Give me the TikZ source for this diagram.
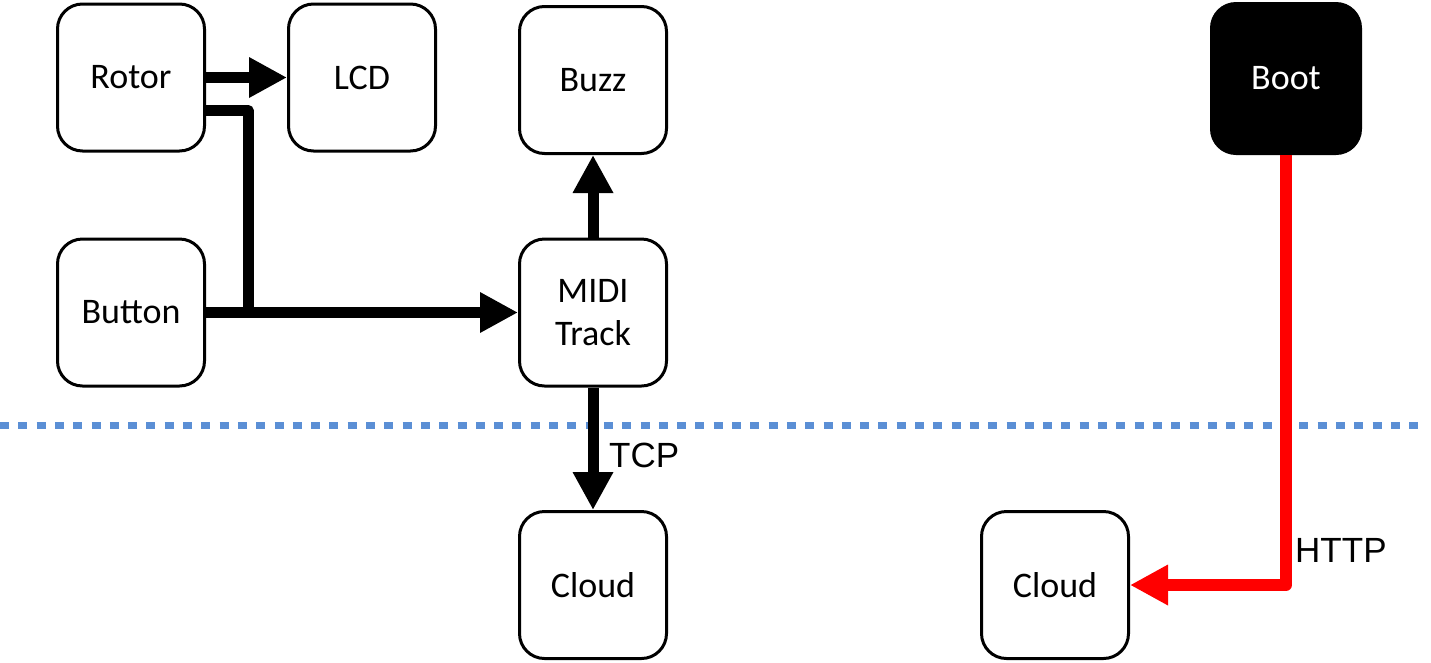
\documentclass[tikz,border=0pt]{standalone}
\usepackage{fontspec}
\setmainfont{Carlito}
\newfontfamily\arialfont{Liberation Sans}
\usetikzlibrary{arrows.meta}
\definecolor{sepblue}{RGB}{91,143,213}
\definecolor{httpred}{RGB}{255,0,0}
\begin{document}
\begin{tikzpicture}[x=1pt,y=-1pt,
  box/.style={draw, line width=3pt, rounded corners=25pt, minimum width=147pt,
    minimum height=147pt, inner sep=0pt, align=center,
    font=\fontsize{36}{43}\selectfont},
  darkbox/.style={fill=black, text=white, rounded corners=26pt, minimum width=152pt,
    minimum height=153pt, inner sep=0pt, font=\fontsize{36}{43}\selectfont},
  conn/.style={line width=11pt, line join=round,
    -{Triangle[length=38pt,width=38pt]}},
  plainconn/.style={line width=11pt, line join=round},
  redconn/.style={line width=12pt, httpred, line join=round,
    -{Triangle[length=38pt,width=38pt]}},
  sep/.style={sepblue, line width=7pt, dash pattern=on 9pt off 9.3pt},
  lbl/.style={font=\arialfont\fontsize{35}{40}\selectfont, inner sep=0pt}
]
\useasboundingbox (0,0) rectangle (1431,662);

\node[box] (rotor) at (131,77.5) {Rotor};
\node[box] (lcd) at (362,77.5) {LCD};
\node[box] (buzz) at (593,80) {Buzz};
\node[box] (button) at (131,312.5) {Button};
\node[box] (midi) at (593,312.5) {MIDI\\Track};
\node[darkbox] (boot) at (1286,78.5) {Boot};
\node[box] (cloudA) at (593,585) {Cloud};
\node[box] (cloudB) at (1055,585) {Cloud};

\coordinate (sepL) at (0,425);
\coordinate (sepR) at (1425,425);
\draw[sep] (sepL) -- (sepR);

\coordinate (junc) at (248,312.5);

\draw[conn] (rotor.east) -- (lcd.west);
\draw[plainconn] ([yshift=-33pt]rotor.east) -| (junc);
\draw[conn] (button.east) -- (midi.west);
\draw[conn] (midi.north) -- (buzz.south);
\draw[conn] (midi.south) -- (cloudA.north);
\draw[redconn] (boot.south) |- (cloudB.east);

\node[lbl, anchor=west] (tcp) at (609,455) {TCP};
\node[lbl, anchor=west] (http) at (1295,550) {HTTP};
\end{tikzpicture}
\end{document}
